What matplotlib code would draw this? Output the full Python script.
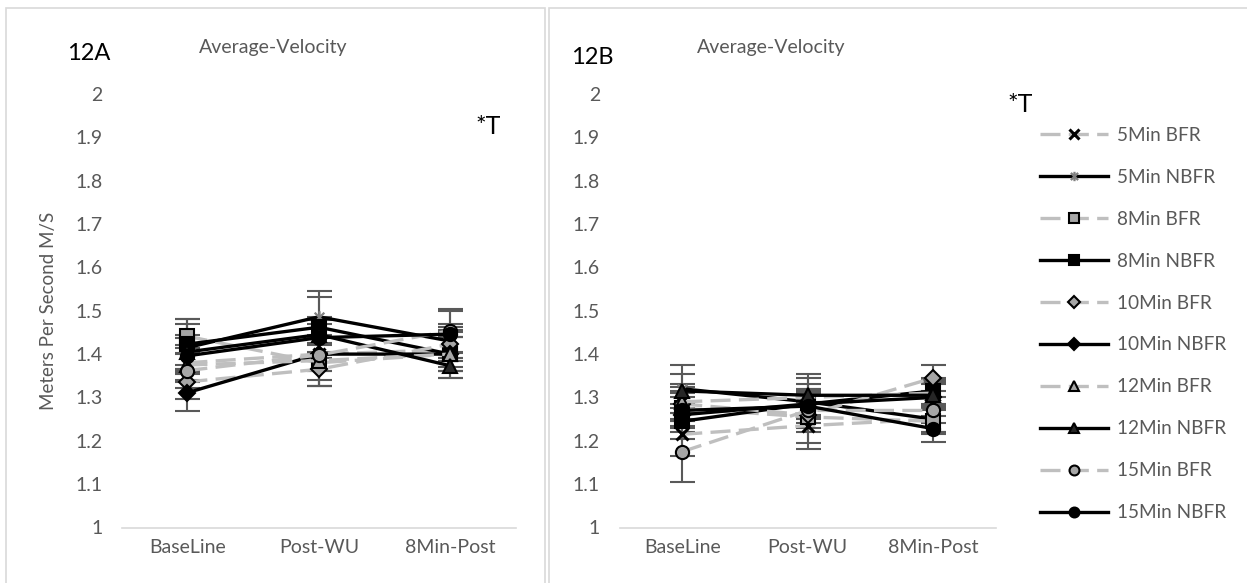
import matplotlib
matplotlib.use("Agg")
import matplotlib.pyplot as plt
from matplotlib.path import Path
from matplotlib.patches import Rectangle

plt.rcParams['font.family'] = ['Lato', 'DejaVu Sans']

W, H = 1247, 583

stages = ["BaseLine", "Post-WU", "8Min-Post"]
series_names = ["5Min BFR", "5Min NBFR", "8Min BFR", "8Min NBFR", "10Min BFR",
                "10Min NBFR", "12Min BFR", "12Min NBFR", "15Min BFR", "15Min NBFR"]
y_ticks = [1, 1.1, 1.2, 1.3, 1.4, 1.5, 1.6, 1.7, 1.8, 1.9, 2]

# 12A: mean velocity per stage
a_5min_bfr = [1.38, 1.40, 1.41]
a_5min_nbfr = [1.415, 1.486, 1.43]
a_8min_bfr = [1.441, 1.38, 1.40]
a_8min_nbfr = [1.423, 1.462, 1.40]
a_10min_bfr = [1.336, 1.365, 1.423]
a_10min_nbfr = [1.311, 1.40, 1.40]
a_12min_bfr = [1.375, 1.385, 1.40]
a_12min_nbfr = [1.405, 1.445, 1.373]
a_15min_bfr = [1.362, 1.398, 1.454]
a_15min_nbfr = [1.396, 1.438, 1.446]

# 12A: error bar half-widths
a_5min_bfr_err = [0.04, 0.04, 0.04]
a_5min_nbfr_err = [0.054, 0.06, 0.04]
a_8min_bfr_err = [0.04, 0.04, 0.04]
a_8min_nbfr_err = [0.058, 0.07, 0.055]
a_10min_bfr_err = [0.04, 0.038, 0.04]
a_10min_nbfr_err = [0.042, 0.04, 0.04]
a_12min_bfr_err = [0.04, 0.058, 0.04]
a_12min_nbfr_err = [0.04, 0.04, 0.029]
a_15min_bfr_err = [0.04, 0.071, 0.05]
a_15min_nbfr_err = [0.04, 0.04, 0.054]

# 12B: mean velocity per stage
b_5min_bfr = [1.215, 1.235, 1.25]
b_5min_nbfr = [1.32, 1.29, 1.25]
b_8min_bfr = [1.275, 1.255, 1.245]
b_8min_nbfr = [1.245, 1.285, 1.315]
b_10min_bfr = [1.285, 1.26, 1.345]
b_10min_nbfr = [1.26, 1.285, 1.30]
b_12min_bfr = [1.29, 1.30, 1.31]
b_12min_nbfr = [1.315, 1.305, 1.305]
b_15min_bfr = [1.175, 1.27, 1.27]
b_15min_nbfr = [1.27, 1.28, 1.228]

# 12B: error bar half-widths
b_5min_bfr_err = [0.05, 0.055, 0.03]
b_5min_nbfr_err = [0.056, 0.03, 0.03]
b_8min_bfr_err = [0.04, 0.06, 0.03]
b_8min_nbfr_err = [0.04, 0.045, 0.03]
b_10min_bfr_err = [0.04, 0.03, 0.03]
b_10min_nbfr_err = [0.04, 0.03, 0.03]
b_12min_bfr_err = [0.04, 0.045, 0.03]
b_12min_nbfr_err = [0.04, 0.05, 0.03]
b_15min_bfr_err = [0.07, 0.05, 0.03]
b_15min_nbfr_err = [0.04, 0.03, 0.03]

a_means = [a_5min_bfr, a_5min_nbfr, a_8min_bfr, a_8min_nbfr, a_10min_bfr,
           a_10min_nbfr, a_12min_bfr, a_12min_nbfr, a_15min_bfr, a_15min_nbfr]
a_errs = [a_5min_bfr_err, a_5min_nbfr_err, a_8min_bfr_err, a_8min_nbfr_err, a_10min_bfr_err,
          a_10min_nbfr_err, a_12min_bfr_err, a_12min_nbfr_err, a_15min_bfr_err, a_15min_nbfr_err]
b_means = [b_5min_bfr, b_5min_nbfr, b_8min_bfr, b_8min_nbfr, b_10min_bfr,
           b_10min_nbfr, b_12min_bfr, b_12min_nbfr, b_15min_bfr, b_15min_nbfr]
b_errs = [b_5min_bfr_err, b_5min_nbfr_err, b_8min_bfr_err, b_8min_nbfr_err, b_10min_bfr_err,
          b_10min_nbfr_err, b_12min_bfr_err, b_12min_nbfr_err, b_15min_bfr_err, b_15min_nbfr_err]

TEXT_GRAY = '#595959'
LINE_GRAY = '#bfbfbf'
FILL_GRAY = '#a6a6a6'

# six-armed asterisk marker
asterisk = Path([(-1, -1), (1, 1), (-1, 1), (1, -1), (0, -1.3), (0, 1.3)],
                [Path.MOVETO, Path.LINETO, Path.MOVETO, Path.LINETO, Path.MOVETO, Path.LINETO])


def series_style(i):
    bfr = i % 2 == 0
    style = dict(linewidth=2.4, markersize=9.5, markeredgewidth=1.5)
    if bfr:
        style.update(color=LINE_GRAY, linestyle=(0, (6, 2.5)))
    else:
        style.update(color='black', linestyle='-')
    kind = i // 2
    if kind == 0:
        if bfr:
            style.update(marker='x', markeredgecolor='black', markeredgewidth=2.2, markersize=9)
        else:
            style.update(marker=asterisk, markeredgecolor='#808080', markerfacecolor='none',
                         markeredgewidth=1.6, markersize=9)
    else:
        mk = {1: 's', 2: 'D', 3: '^', 4: 'o'}[kind]
        style.update(marker=mk, markeredgecolor='black',
                     markerfacecolor=FILL_GRAY if bfr else ('#262626' if kind == 3 else 'black'))
        if mk == 'D':
            style['markersize'] = 8
    return style


def px(x, y):
    return x / W, 1 - y / H


fig = plt.figure(figsize=(W / 100, H / 100), dpi=100)

# chart area borders
for x0, x1 in [(6, 545), (549, 1260)]:
    fig.patches.append(Rectangle(px(x0, 600), (x1 - x0) / W, (600 - 8) / H, transform=fig.transFigure,
                                 fill=False, edgecolor='#d9d9d9', linewidth=1.2))

y_one, y_two = 527.5, 94
y_bot = 1 - y_one / H
y_h = (y_one - y_two) / H
ax_a = fig.add_axes([121.7 / W, y_bot, (516 - 121.7) / W, y_h])
ax_b = fig.add_axes([619.5 / W, y_bot, (996 - 619.5) / W, y_h])

x = list(range(len(stages)))
for ax, means, errs in [(ax_a, a_means, a_errs), (ax_b, b_means, b_errs)]:
    for m, e in zip(means, errs):
        ax.errorbar(x, m, yerr=e, fmt='none', ecolor=TEXT_GRAY, elinewidth=1.5,
                    capsize=9, capthick=1.5, zorder=2)
    for i, m in enumerate(means):
        ax.plot(x, m, label=series_names[i], zorder=3 + i * 0.01, **series_style(i))

    ax.set_xlim(-0.5, len(stages) - 0.5)
    ax.set_ylim(1, 2)
    ax.set_yticks(y_ticks)
    ax.set_yticklabels([f"{t:g}" for t in y_ticks])
    ax.set_xticks(x)
    ax.set_xticklabels(stages)
    ax.tick_params(length=0, labelsize=14, labelcolor=TEXT_GRAY)
    ax.tick_params(axis='y', pad=14)
    ax.tick_params(axis='x', pad=8)
    for side in ['top', 'right', 'left']:
        ax.spines[side].set_visible(False)
    ax.spines['bottom'].set_color('#d9d9d9')
    ax.spines['bottom'].set_linewidth(1.2)
    ax.patch.set_alpha(0)

ax_a.set_ylabel("Meters Per Second M/S", fontsize=13.5, color=TEXT_GRAY)
ax_a.yaxis.set_label_coords((57 - 121.7) / (516 - 121.7), 0.5)

# titles and panel tags
fig.text(*px(273, 47), "Average-Velocity", fontsize=14, color=TEXT_GRAY, ha='center', va='center')
fig.text(*px(771, 47), "Average-Velocity", fontsize=14, color=TEXT_GRAY, ha='center', va='center')
fig.text(*px(89, 53), "12A", fontsize=17, color='black', ha='center', va='center')
fig.text(*px(592, 58), "12B", fontsize=17, color='black', ha='center', va='center')
fig.text(*px(488, 126), "*T", fontsize=18, color='black', ha='center', va='center')
fig.text(*px(1020, 105), "*T", fontsize=18, color='black', ha='center', va='center')

handles, labels = ax_b.get_legend_handles_labels()
ax_b.legend(handles, labels, loc='center left', bbox_to_anchor=px(1040, 324),
            bbox_transform=fig.transFigure, frameon=False, fontsize=13.7,
            labelcolor=TEXT_GRAY, handlelength=3.58, handletextpad=0.47,
            labelspacing=1.31, borderpad=0, borderaxespad=0, numpoints=1, markerscale=0.75)

fig.savefig("out.png", dpi=100)
